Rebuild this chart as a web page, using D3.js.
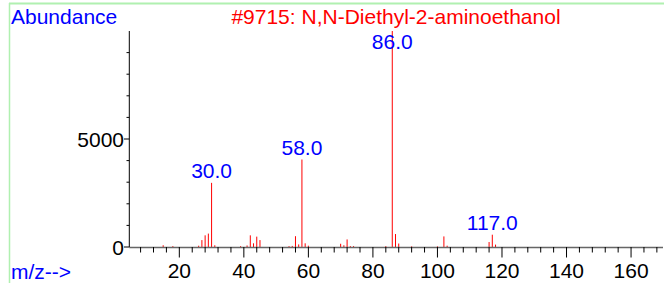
<!DOCTYPE html>
<html><head><meta charset="utf-8">
<script src="https://cdn.jsdelivr.net/npm/d3@7"></script>
<style>
html,body{margin:0;padding:0;background:#fff;}
svg{display:block;}
text{font-family:"Liberation Sans",Arial,sans-serif;}
</style></head>
<body>
<svg id="c" width="664" height="283"></svg>
<script>
const mz =        [15, 18, 26, 27, 28, 29, 30,   31, 39, 41, 42, 43, 44, 45, 54, 55, 56, 57, 58,   59, 60, 70, 71, 72, 73, 74, 84, 86,    87, 88, 92, 100, 102, 103, 116, 117, 118];
const abundance = [80, 40, 60, 320,540,620,2970, 80, 40, 70, 540,170,480,320,40, 50, 500,120,4050, 170,60, 150,80, 350,40, 40, 40, 10000, 600,160,30, 30,  490, 60,  230, 570, 110];
const labelled = [30, 58, 86, 117];
const xTicks = [20, 40, 60, 80, 100, 120, 140, 160];
const yTicks = [0, 5000];
const title = "#9715: N,N-Diethyl-2-aminoethanol";

const svg = d3.select("#c");
const fs = 21;
const x = d3.scaleLinear().domain([4.5, 169.9]).range([129.3, 663]);
const y = d3.scaleLinear().domain([0, 10000]).range([247, 31]);

// frame (light green)
svg.append("line").attr("x1", 9.5).attr("x2", 9.5).attr("y1", 3).attr("y2", 283)
  .attr("stroke", "#b0f0b0").attr("stroke-width", 1.5);
svg.append("line").attr("x1", 9).attr("x2", 664).attr("y1", 3.5).attr("y2", 3.5)
  .attr("stroke", "#b0f0b0").attr("stroke-width", 2);

// peaks
svg.append("g").selectAll("line").data(mz).join("line")
  .attr("x1", (d) => x(d)).attr("x2", (d) => x(d))
  .attr("y1", y(0)).attr("y2", (d, i) => y(abundance[i]))
  .attr("stroke", "#ff0000").attr("stroke-width", 1);

// x axis
const xAxis = svg.append("g");
xAxis.append("line").attr("x1", x.range()[0]).attr("x2", x.range()[1])
  .attr("y1", y(0) + 0.5).attr("y2", y(0) + 0.5).attr("stroke", "#666").attr("stroke-width", 1.5);
const minorX = d3.range(8, 170, 4).filter((v) => v % 20 !== 0);
xAxis.selectAll(".mx").data(minorX).join("line")
  .attr("x1", (d) => x(d)).attr("x2", (d) => x(d))
  .attr("y1", y(0)).attr("y2", y(0) + 5.5).attr("stroke", "#000");
xAxis.selectAll(".Mx").data(xTicks).join("line")
  .attr("x1", (d) => x(d)).attr("x2", (d) => x(d))
  .attr("y1", y(0)).attr("y2", y(0) + 10.5).attr("stroke", "#000");
xAxis.selectAll("text").data(xTicks).join("text")
  .attr("x", (d) => x(d)).attr("y", 277.5).attr("text-anchor", "middle")
  .attr("font-size", fs).attr("fill", "#000").text((d) => d);

// y axis
const yAxis = svg.append("g");
yAxis.append("line").attr("x1", 129.3).attr("x2", 129.3).attr("y1", y(10000)).attr("y2", y(0))
  .attr("stroke", "#000").attr("stroke-width", 1);
const minorY = d3.range(1000, 10000, 1000).filter((v) => v !== 5000);
yAxis.selectAll(".my").data(minorY).join("line")
  .attr("x1", 126.5).attr("x2", 129.3).attr("y1", (d) => y(d)).attr("y2", (d) => y(d))
  .attr("stroke", "#000");
yAxis.selectAll(".My").data(yTicks).join("line")
  .attr("x1", 124).attr("x2", 129.3).attr("y1", (d) => y(d)).attr("y2", (d) => y(d))
  .attr("stroke", "#000");
yAxis.selectAll("text").data(yTicks).join("text")
  .attr("x", 124).attr("y", (d) => y(d) + 7.5).attr("text-anchor", "end")
  .attr("font-size", fs).attr("fill", "#000").text((d) => d);

// peak labels
svg.append("g").selectAll("text").data(labelled).join("text")
  .attr("x", (d) => x(d)).attr("y", (d) => Math.max(y(abundance[mz.indexOf(d)]) - 4.5, 49))
  .attr("text-anchor", "middle").attr("font-size", fs).attr("fill", "#0000ff")
  .text((d) => d.toFixed(1));

// titles
svg.append("text").attr("x", 11).attr("y", 24).attr("font-size", fs).attr("fill", "#0000ff").text("Abundance");
svg.append("text").attr("x", 11).attr("y", 279).attr("font-size", fs).attr("fill", "#0000ff").text("m/z-->");
svg.append("text").attr("x", 396).attr("y", 24).attr("text-anchor", "middle").attr("font-size", fs)
  .attr("fill", "#ff0000").text(title);
</script>
</body></html>
